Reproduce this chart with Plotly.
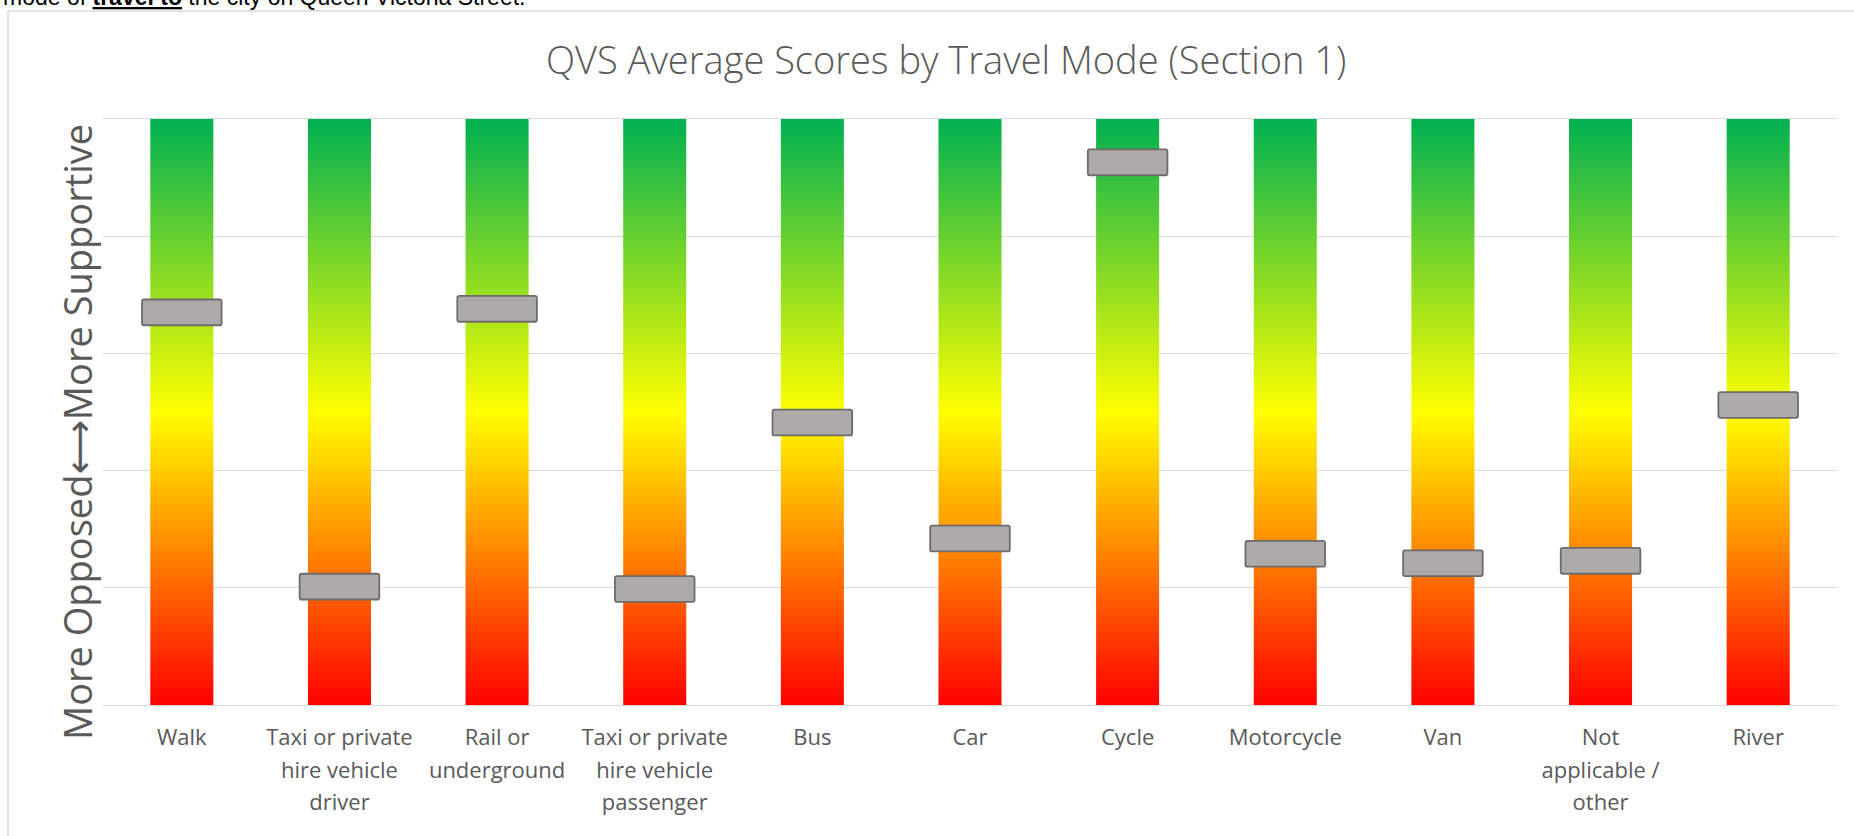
import plotly.graph_objects as go

# ---------------- data ----------------
categories = [
    "Walk",
    "Taxi or private<br>hire vehicle<br>driver",
    "Rail or<br>underground",
    "Taxi or private<br>hire vehicle<br>passenger",
    "Bus",
    "Car",
    "Cycle",
    "Motorcycle",
    "Van",
    "Not<br>applicable /<br>other",
    "River",
]
scores = [3.35, 1.01, 3.38, 0.99, 2.41, 1.42, 4.63, 1.29, 1.21, 1.23, 2.56]
scale_min, scale_max = 0, 5

title_text = "QVS Average Scores by Travel Mode (Section 1)"
y_title_text = ("More Opposed<span style='font-family:DejaVu Sans'>\u27F7</span>"
                "More Supportive")
top_text = "mode of <b><u>travel to</u></b> the city on Queen Victoria Street."

# ---------------- layout geometry ----------------
W, H = 1854, 836
L, R, T, B = 103, 17, 119, 131
pw, ph = W - L - R, H - T - B


def px_x(px):
    return (px - L) / pw


def px_y(py):
    return (H - B - py) / ph


GRAD = [[0, "#FF0000"], [0.5, "#FFFF00"], [1, "#00B050"]]
BAR_W = 0.40
MARK_W = 0.505
MARK_H = 0.22
TXT = "#595959"
GRID = "#D9D9D9"

idx = list(range(len(categories)))
fig = go.Figure()

# gradient columns
for i in idx:
    x0, x1 = i - BAR_W / 2, i + BAR_W / 2
    fig.add_trace(go.Scatter(
        x=[x0, x1, x1, x0, x0],
        y=[scale_min, scale_min, scale_max, scale_max, scale_min],
        mode="lines", fill="toself",
        line=dict(width=0, color="rgba(0,0,0,0)"),
        fillgradient=dict(type="vertical", colorscale=GRAD,
                          start=scale_min, stop=scale_max),
        hoverinfo="skip", showlegend=False,
    ))

# score markers (grey sliders)
fig.add_trace(go.Bar(
    x=idx,
    y=[MARK_H] * len(scores),
    base=[s - MARK_H / 2 for s in scores],
    width=MARK_W,
    marker=dict(color="#AEAAAA", line=dict(color="#6F6B6B", width=1.8),
                cornerradius=2),
    yaxis="y2", showlegend=False,
    hovertext=[f"{s:.2f}" for s in scores], hoverinfo="text",
))

lbl_font = 25
ticktext = ["<br>".join(f"<span style='font-size:22px'>{p}</span>"
                        for p in c.split("<br>")) for c in categories]

fig.update_layout(
    width=W, height=H,
    margin=dict(l=L, r=R, t=T, b=B, pad=0),
    paper_bgcolor="white", plot_bgcolor="white",
    barmode="overlay",
    font=dict(family="Open Sans", color=TXT),
    xaxis=dict(
        range=[-0.5, len(categories) - 0.5],
        tickmode="array", tickvals=idx, ticktext=ticktext,
        tickfont=dict(family="Open Sans", size=lbl_font, color=TXT),
        showgrid=False, zeroline=False,
        showline=True, mirror=True, linecolor=GRID, linewidth=1,
        ticks="", ticklabelstandoff=9,
        fixedrange=True,
    ),
    yaxis=dict(
        range=[scale_min, scale_max], dtick=1, tick0=0,
        showgrid=True, gridcolor=GRID, gridwidth=1,
        zeroline=False, showticklabels=False, ticks="",
        fixedrange=True,
    ),
    yaxis2=dict(range=[scale_min, scale_max], overlaying="y",
                visible=False, fixedrange=True),
    shapes=[dict(type="rect", xref="paper", yref="paper",
                 x0=px_x(8), x1=px_x(1862), y0=px_y(845), y1=px_y(11),
                 line=dict(color=GRID, width=1.5), layer="below")],
    annotations=[
        dict(text=title_text, xref="paper", yref="paper",
             x=px_x(946), y=px_y(59), xanchor="center", yanchor="middle",
             showarrow=False,
             font=dict(family="Open Sans", size=38, weight=300, color=TXT)),
        dict(text=y_title_text, xref="paper", yref="paper",
             x=px_x(77), y=px_y(432), xanchor="center", yanchor="middle",
             textangle=-90, showarrow=False,
             font=dict(family="Open Sans", size=38, color=TXT)),
        dict(text=top_text, xref="paper", yref="paper",
             x=px_x(1), y=px_y(-3), xanchor="left", yanchor="middle",
             showarrow=False,
             font=dict(family="Liberation Sans", size=23, color="#000000")),
    ],
)

fig.write_html("out.html", config={"displayModeBar": False},
               post_script="document.body.style.margin='0';")
